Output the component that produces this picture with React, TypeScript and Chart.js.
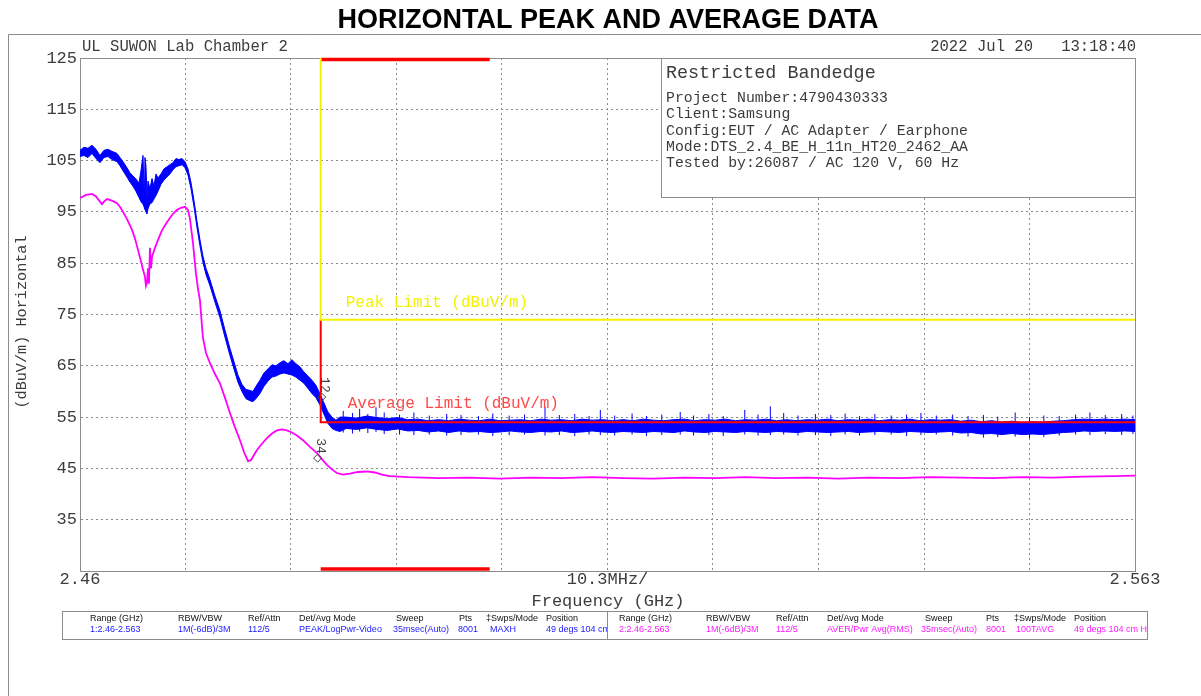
import React, { useEffect, useRef } from 'react';
import { Chart, registerables } from 'chart.js';

Chart.register(...registerables);

const W = 1201;
const H = 696;

// ---------------- data ----------------
const xTickValues = [2.46, 2.4703, 2.4806, 2.4909, 2.5012, 2.5115, 2.5218, 2.5321, 2.5424, 2.5527, 2.563];
const xTickLabels = ['2.46', '', '', '', '', '10.3MHz/', '', '', '', '', '2.563'];
const yHiddenTicks = [25];

const peakFreq = [
  2.46000, 2.46039, 2.46078, 2.46117, 2.46156, 2.46195, 2.46234, 2.46273, 2.46312, 2.46361,
  2.46390, 2.46420, 2.46459, 2.46488, 2.46517, 2.46547, 2.46576, 2.46595, 2.46615, 2.46625,
  2.46634, 2.46644, 2.46654, 2.46664, 2.46683, 2.46703, 2.46722, 2.46742, 2.46761, 2.46791,
  2.46820, 2.46849, 2.46878, 2.46908, 2.46937, 2.46966, 2.46996, 2.47025, 2.47054, 2.47083,
  2.47113, 2.47142, 2.47171, 2.47200, 2.47230, 2.47269, 2.47318, 2.47366, 2.47415, 2.47464,
  2.47503, 2.47542, 2.47581, 2.47620, 2.47659, 2.47688, 2.47718, 2.47757, 2.47796, 2.47835,
  2.47874, 2.47913, 2.47952, 2.47991, 2.48030, 2.48069, 2.48108, 2.48147, 2.48186, 2.48225,
  2.48264, 2.48303, 2.48342, 2.48381, 2.48420, 2.48460, 2.48499, 2.48538,
  2.486, 2.487, 2.488, 2.489, 2.490, 2.491, 2.492, 2.493, 2.494, 2.495,
  2.496, 2.497, 2.498, 2.499, 2.500, 2.501, 2.502, 2.503, 2.504, 2.505,
  2.506, 2.507, 2.508, 2.509, 2.510, 2.511, 2.512, 2.513, 2.514, 2.515,
  2.516, 2.517, 2.518, 2.519, 2.520, 2.521, 2.522, 2.523, 2.524, 2.525,
  2.526, 2.527, 2.528, 2.529, 2.530, 2.531, 2.532, 2.533, 2.534, 2.535,
  2.536, 2.537, 2.538, 2.539, 2.540, 2.541, 2.542, 2.543, 2.544, 2.545,
  2.546, 2.547, 2.548, 2.549, 2.550, 2.551, 2.552, 2.553, 2.554, 2.555,
  2.556, 2.557, 2.558, 2.559, 2.560, 2.561, 2.562, 2.563,
];

const peakHi = [
  107.0, 107.6, 107.4, 108.0, 107.2, 106.0, 107.0, 107.2, 106.8, 106.4,
  105.6, 104.8, 103.6, 102.6, 102.0, 101.4, 100.6, 103.0, 106.0, 99.5,
  105.6, 104.0, 98.0, 101.0, 99.5, 101.5, 100.0, 102.4, 101.6, 102.4,
  103.4, 103.8, 104.2, 104.6, 105.4, 105.2, 105.4, 104.8, 103.4, 100.8,
  97.2, 93.2, 89.6, 86.4, 84.0, 81.8, 78.6, 75.8, 72.0, 68.4,
  65.8, 63.2, 61.4, 60.4, 60.2, 60.0, 61.0, 62.2, 63.6, 64.4,
  65.2, 65.0, 65.6, 66.0, 65.4, 66.2, 65.4, 64.8, 63.8, 63.0,
  62.2, 61.2, 59.6, 57.8, 56.0, 55.0, 54.4, 55.0,
  55.0, 54.8, 55.2, 54.9, 54.7, 54.9, 54.5, 54.6, 54.3, 54.5,
  54.3, 54.6, 54.4, 54.3, 54.6, 54.3, 54.4, 54.5, 54.3, 54.6,
  54.4, 54.5, 54.3, 54.6, 54.4, 54.5, 54.3, 54.5, 54.3, 54.6,
  54.4, 54.3, 54.5, 54.6, 54.3, 54.5, 54.4, 54.6, 54.3, 54.5,
  54.4, 54.6, 54.3, 54.5, 54.3, 54.5, 54.4, 54.6, 54.3, 54.5,
  54.4, 54.6, 54.3, 54.5, 54.4, 54.6, 54.3, 54.5, 54.4, 54.5,
  54.2, 54.4, 54.1, 54.3, 54.0, 54.2, 53.9, 54.1, 54.0, 54.2,
  54.3, 54.5, 54.6, 54.5, 54.6, 54.5, 54.6, 54.5,
];

const peakLo = [
  105.8, 106.0, 105.6, 106.4, 105.4, 104.6, 105.6, 105.8, 105.2, 104.8,
  104.0, 103.0, 101.8, 100.8, 100.0, 99.0, 97.8, 97.0, 96.5, 96.0,
  95.5, 95.0, 94.6, 95.6, 96.6, 96.8, 97.5, 98.2, 99.0, 100.4,
  101.2, 101.8, 102.4, 103.2, 103.8, 104.0, 104.2, 103.6, 102.2, 99.6,
  96.0, 92.0, 88.4, 85.2, 82.8, 80.6, 77.4, 74.4, 70.6, 67.0,
  64.4, 61.8, 60.0, 58.6, 58.2, 58.0, 58.6, 59.6, 61.0, 62.0,
  62.8, 63.0, 63.4, 63.6, 63.4, 63.2, 62.8, 62.2, 61.6, 60.6,
  59.6, 58.8, 57.4, 55.6, 53.8, 52.8, 52.4, 52.2,
  52.8, 52.6, 52.9, 52.6, 52.4, 52.7, 52.3, 52.4, 52.1, 52.3,
  52.0, 52.3, 52.1, 52.2, 52.0, 52.1, 52.3, 52.1, 52.0, 52.2,
  52.1, 52.3, 52.0, 52.1, 52.3, 52.1, 52.0, 52.2, 52.1, 52.0,
  52.2, 52.1, 52.0, 52.3, 52.1, 52.0, 52.2, 52.1, 52.0, 52.2,
  52.1, 52.0, 52.2, 52.1, 52.0, 52.2, 52.1, 52.0, 52.1, 52.2,
  52.0, 52.1, 52.2, 52.1, 52.0, 52.2, 52.1, 52.0, 52.1, 52.2,
  51.9, 52.0, 51.7, 51.8, 51.6, 51.8, 51.6, 51.7, 51.6, 51.8,
  52.0, 52.1, 52.3, 52.2, 52.3, 52.2, 52.3, 52.2,
];

// individual noise spikes of the peak trace (frequency, top, bottom)
const spikeFreq = [
  2.4857, 2.4866, 2.4873, 2.4881, 2.4889, 2.4897, 2.4912, 2.4926, 2.4941, 2.4958,
  2.4972, 2.4989, 2.5003, 2.5019, 2.5034, 2.5054, 2.5068, 2.5083, 2.5097, 2.5108,
  2.5122, 2.5139, 2.5153, 2.5168, 2.5186, 2.5199, 2.5214, 2.5228, 2.5249, 2.5262,
  2.5274, 2.5287, 2.5301, 2.5318, 2.5333, 2.5347, 2.5361, 2.5376, 2.5392, 2.5407,
  2.5421, 2.5436, 2.5452, 2.5467, 2.5482, 2.5496, 2.5513, 2.5527, 2.5541, 2.5556,
  2.5572, 2.5586, 2.5601, 2.5617, 2.5628,
];
const spikeTop = [
  56.2, 55.8, 56.6, 55.6, 56.9, 55.9, 55.5, 55.9, 55.3, 55.6,
  55.4, 55.2, 55.7, 55.3, 55.5, 57.0, 55.4, 55.6, 55.2, 56.4,
  55.3, 55.7, 55.2, 55.5, 56.0, 55.3, 55.6, 55.2, 56.4, 55.5,
  57.1, 55.8, 55.3, 55.6, 55.4, 55.7, 55.2, 55.6, 55.3, 55.5,
  55.8, 55.3, 55.5, 55.2, 55.4, 55.1, 55.9, 55.0, 55.3, 55.2,
  55.5, 55.9, 55.4, 55.6, 55.3,
];
const spikeBottom = [
  52.0, 51.8, 52.2, 51.9, 52.1, 51.7, 51.6, 51.5, 51.6, 51.4,
  51.5, 51.6, 51.3, 51.5, 51.6, 51.4, 51.5, 51.3, 51.6, 51.5,
  51.4, 51.6, 51.3, 51.5, 51.6, 51.4, 51.5, 51.3, 51.6, 51.4,
  51.5, 51.6, 51.4, 51.5, 51.3, 51.6, 51.4, 51.5, 51.6, 51.3,
  51.5, 51.6, 51.4, 51.2, 51.0, 51.1, 51.2, 50.9, 51.1, 51.4,
  51.6, 51.5, 51.7, 51.5, 51.7,
];

const avgFreq = [
  2.46000, 2.46059, 2.46117, 2.46156, 2.46195, 2.46215, 2.46234, 2.46264, 2.46312, 2.46361,
  2.46390, 2.46420, 2.46459, 2.46508, 2.46537, 2.46566, 2.46595, 2.46615, 2.46634, 2.46644,
  2.46654, 2.46664, 2.46673, 2.46683, 2.46693, 2.46703, 2.46732, 2.46761, 2.46800, 2.46849,
  2.46898, 2.46947, 2.46986, 2.47025, 2.47054, 2.47074, 2.47103, 2.47132, 2.47152, 2.47171,
  2.47200, 2.47230, 2.47269, 2.47318, 2.47366, 2.47415, 2.47464, 2.47513, 2.47562, 2.47601,
  2.47640, 2.47669, 2.47698, 2.47728, 2.47776, 2.47825, 2.47874, 2.47923, 2.47972, 2.48020,
  2.48069, 2.48118, 2.48177, 2.48245, 2.48313, 2.48362, 2.48411, 2.48460, 2.48508, 2.48567,
  2.48635, 2.48713, 2.48801, 2.48879, 2.48948, 2.49026,
  2.492, 2.495, 2.498, 2.501, 2.504, 2.507, 2.510, 2.513, 2.516, 2.519,
  2.522, 2.525, 2.528, 2.531, 2.534, 2.537, 2.540, 2.543, 2.546, 2.549,
  2.552, 2.555, 2.558, 2.561, 2.563,
];

const avgVal = [
  97.7, 98.3, 98.5, 98.0, 97.0, 96.5, 97.0, 97.5, 97.2, 96.7,
  96.0, 95.0, 93.6, 91.5, 89.8, 87.6, 85.4, 83.7, 82.4, 80.6,
  81.2, 84.0, 81.0, 88.0, 84.0, 86.2, 88.0, 89.5, 91.4, 93.0,
  94.4, 95.4, 95.8, 96.0, 95.4, 93.6, 88.9, 83.0, 80.0, 77.8,
  70.5, 67.5, 65.5, 63.4, 61.6, 58.8, 55.8, 53.0, 50.5, 48.2,
  46.4, 46.6, 47.6, 48.6, 49.8, 50.9, 51.8, 52.4, 52.6, 52.4,
  52.0, 51.4, 50.5, 49.2, 48.0, 46.8, 45.7, 44.8, 44.1, 43.8,
  44.0, 44.3, 44.4, 44.2, 43.8, 43.5,
  43.3, 43.1, 43.2, 43.0, 43.2, 43.1, 43.3, 43.1, 43.0, 43.2,
  43.1, 43.3, 43.1, 43.2, 43.0, 43.2, 43.1, 43.3, 43.2, 43.1,
  43.3, 43.2, 43.4, 43.5, 43.6,
];

const limitFreq = [2.4835, 2.4835, 2.563];
const peakLimitVal = [125, 74, 74];
const avgLimitVal = [74, 54, 54];

const restrictedFreq = [2.4835, 2.5];
const restrictedTopVal = [124.7, 124.7];
const restrictedBottomVal = [25.4, 25.4];

const markerFreq = [2.4836, 2.4832];
const markerVal = [58.9, 47.0];
const markerLabels = ['12', '34'];

const titleText = 'HORIZONTAL PEAK AND AVERAGE DATA';
const headerLeft = 'UL SUWON Lab Chamber 2';
const headerRight = '2022 Jul 20   13:18:40';
const infoTitle = 'Restricted Bandedge';
const infoLines = [
  'Project Number:4790430333',
  'Client:Samsung',
  'Config:EUT / AC Adapter / Earphone',
  'Mode:DTS_2.4_BE_H_11n_HT20_2462_AA',
  'Tested by:26087 / AC 120 V, 60 Hz',
];
const peakLimitLabel = 'Peak Limit (dBuV/m)';
const avgLimitLabel = 'Average Limit (dBuV/m)';
const yTitle = '(dBuV/m) Horizontal';
const xTitle = 'Frequency (GHz)';

const tableHeaders = ['Range (GHz)', 'RBW/VBW', 'Ref/Attn', 'Det/Avg Mode', 'Sweep', 'Pts', '\u2021Swps/Mode', 'Position'];
const trace1Row = ['1:2.46-2.563', '1M(-6dB)/3M', '112/5', 'PEAK/LogPwr-Video', '35msec(Auto)', '8001', 'MAXH', '49 degs 104 cm H'];
const trace2Row = ['2:2.46-2.563', '1M(-6dB)/3M', '112/5', 'AVER/Pwr Avg(RMS)', '35msec(Auto)', '8001', '100TAVG', '49 degs 104 cm H'];

// ---------------- styles ----------------
const MONO = "'Liberation Mono', 'DejaVu Sans Mono', monospace";
const TXT = '#3c3c3c';
const GRID = '#8c8c8c';
const FRAME = '#8c8c8c';
const BLUE = '#0000ff';
const MAGENTA = '#ff00ff';
const YELLOW = '#f2f200';
const RED = '#ff0000';

const pts = (xs: number[], ys: number[]) => xs.map((x, i) => ({ x, y: ys[i] }));
const spikePts = () =>
  spikeFreq.flatMap((f, i) => [
    { x: f, y: spikeBottom[i] },
    { x: f, y: spikeTop[i] },
    { x: f, y: null as any },
  ]);

const overlay = {
  id: 'overlay',
  beforeDraw(chart: any) {
    const ctx = chart.ctx as CanvasRenderingContext2D;
    ctx.save();
    ctx.fillStyle = '#ffffff';
    ctx.fillRect(0, 0, W, H);
    ctx.strokeStyle = FRAME;
    ctx.lineWidth = 1;
    ctx.beginPath();
    ctx.moveTo(8.5, H);
    ctx.lineTo(8.5, 34.5);
    ctx.lineTo(W, 34.5);
    ctx.stroke();
    ctx.fillStyle = '#000';
    ctx.font = "bold 27px 'Liberation Sans', Arial, sans-serif";
    ctx.textAlign = 'center';
    ctx.textBaseline = 'alphabetic';
    ctx.fillText(titleText, 608, 28);
    ctx.fillStyle = TXT;
    ctx.font = `15.6px ${MONO}`;
    ctx.textBaseline = 'middle';
    ctx.textAlign = 'left';
    ctx.fillText(headerLeft, 82, 47);
    ctx.textAlign = 'right';
    ctx.fillText(headerRight, 1136, 47);
    ctx.restore();
  },
  beforeDatasetsDraw(chart: any) {
    const ctx = chart.ctx as CanvasRenderingContext2D;
    const a = chart.chartArea;
    ctx.save();
    ctx.strokeStyle = FRAME;
    ctx.lineWidth = 1;
    ctx.strokeRect(Math.round(a.left) + 0.5, Math.round(a.top) + 0.5, Math.round(a.right - a.left), Math.round(a.bottom - a.top));
    ctx.fillStyle = '#ffffff';
    ctx.fillRect(661.5, 58.5, 474, 139);
    ctx.strokeRect(661.5, 58.5, 474, 139);
    ctx.fillStyle = TXT;
    ctx.textAlign = 'left';
    ctx.textBaseline = 'middle';
    ctx.font = `18.4px ${MONO}`;
    ctx.fillText(infoTitle, 666, 73);
    ctx.font = `14.8px ${MONO}`;
    infoLines.forEach((t, i) => ctx.fillText(t, 666, 98 + i * 16.3));
    ctx.restore();
  },
  afterDatasetsDraw(chart: any) {
    const ctx = chart.ctx as CanvasRenderingContext2D;
    const xs = chart.scales.x;
    const ys = chart.scales.y;
    ctx.save();
    ctx.textAlign = 'left';
    ctx.textBaseline = 'middle';
    ctx.font = `16px ${MONO}`;
    ctx.fillStyle = YELLOW;
    ctx.fillText(peakLimitLabel, xs.getPixelForValue(limitFreq[1]) + 25, ys.getPixelForValue(peakLimitVal[1]) - 17);
    ctx.fillStyle = '#ff4a4a';
    ctx.fillText(avgLimitLabel, xs.getPixelForValue(limitFreq[1]) + 27, ys.getPixelForValue(avgLimitVal[1]) - 18);
    ctx.fillStyle = '#404040';
    ctx.font = `13px ${MONO}`;
    markerLabels.forEach((t, i) => {
      const px = xs.getPixelForValue(markerFreq[i]);
      const py = ys.getPixelForValue(markerVal[i]);
      ctx.save();
      ctx.translate(px - 1, py - 20);
      ctx.rotate(Math.PI / 2);
      ctx.textBaseline = 'middle';
      ctx.fillText(t, 0, -4);
      ctx.restore();
    });
    ctx.restore();
  },
  afterDraw(chart: any) {
    const ctx = chart.ctx as CanvasRenderingContext2D;
    ctx.save();
    ctx.fillStyle = TXT;
    ctx.font = `17px ${MONO}`;
    ctx.textAlign = 'center';
    ctx.textBaseline = 'middle';
    ctx.fillText(xTitle, 608, 601);
    ctx.save();
    ctx.translate(22, 322);
    ctx.rotate(-Math.PI / 2);
    ctx.font = `15.2px ${MONO}`;
    ctx.fillText(yTitle, 0, 0);
    ctx.restore();
    ctx.strokeStyle = FRAME;
    ctx.lineWidth = 1;
    ctx.strokeRect(62.5, 611.5, 1085, 28);
    ctx.beginPath();
    ctx.moveTo(607.5, 611.5);
    ctx.lineTo(607.5, 639.5);
    ctx.stroke();
    const hdrL = [90, 178, 248, 299, 396, 459, 486, 546];
    const valL = [90, 178, 248, 299, 393, 458, 490, 546];
    const hdrR = [619, 706, 776, 827, 925, 986, 1014, 1074];
    const valR = [619, 706, 776, 827, 921, 986, 1016, 1074];
    ctx.font = "9px 'Liberation Sans Narrow', 'Liberation Sans', sans-serif";
    ctx.textAlign = 'left';
    ctx.textBaseline = 'middle';
    ctx.save();
    ctx.beginPath();
    ctx.rect(63, 612, 544, 27);
    ctx.clip();
    tableHeaders.forEach((t, i) => { ctx.fillStyle = '#111'; ctx.fillText(t, hdrL[i], 619); });
    trace1Row.forEach((t, i) => { ctx.fillStyle = '#1a1aff'; ctx.fillText(t, valL[i], 630); });
    ctx.restore();
    ctx.save();
    ctx.beginPath();
    ctx.rect(608, 612, 539, 27);
    ctx.clip();
    tableHeaders.forEach((t, i) => { ctx.fillStyle = '#111'; ctx.fillText(t, hdrR[i], 619); });
    trace2Row.forEach((t, i) => { ctx.fillStyle = '#ff1aff'; ctx.fillText(t, valR[i], 630); });
    ctx.restore();
    ctx.restore();
  },
};

export default function App() {
  const ref = useRef<HTMLCanvasElement>(null);
  useEffect(() => {
    const canvas = ref.current!;
    const chart = new Chart(canvas, {
      type: 'line',
      data: {
        datasets: [
          { label: 'Peak Limit', data: pts(limitFreq, peakLimitVal), borderColor: YELLOW, borderWidth: 2, pointRadius: 0, fill: false, clip: false } as any,
          { label: 'Average Limit', data: pts(limitFreq, avgLimitVal), borderColor: RED, borderWidth: 2, pointRadius: 0, fill: false } as any,
          { label: 'Markers', data: pts(markerFreq, markerVal), showLine: false, pointStyle: 'rectRot', pointRadius: 4, pointBorderColor: '#404040', pointBackgroundColor: 'rgba(0,0,0,0)', pointBorderWidth: 1 } as any,
          { label: 'Restricted top', data: pts(restrictedFreq, restrictedTopVal), borderColor: RED, borderWidth: 3.5, pointRadius: 0, clip: false } as any,
          { label: 'Restricted bottom', data: pts(restrictedFreq, restrictedBottomVal), borderColor: RED, borderWidth: 3.5, pointRadius: 0, clip: false } as any,
          { label: 'Average', data: pts(avgFreq, avgVal), borderColor: MAGENTA, borderWidth: 1.8, pointRadius: 0, fill: false } as any,
          { label: 'Peak spikes', data: spikePts(), borderColor: BLUE, borderWidth: 1, pointRadius: 0, fill: false, spanGaps: false } as any,
          { label: 'Peak hi', data: pts(peakFreq, peakHi), borderColor: BLUE, borderWidth: 1, pointRadius: 0, fill: false } as any,
          { label: 'Peak lo', data: pts(peakFreq, peakLo), borderColor: BLUE, borderWidth: 1, pointRadius: 0, fill: '-1', backgroundColor: BLUE } as any,
        ],
      },
      options: {
        animation: false,
        responsive: false,
        devicePixelRatio: 1,
        layout: { padding: { left: 8, right: 66, top: 58, bottom: 95 } },
        plugins: { legend: { display: false }, tooltip: { enabled: false } },
        elements: { line: { tension: 0 }, point: { radius: 0 } },
        scales: {
          x: {
            type: 'linear',
            min: 2.46,
            max: 2.563,
            afterBuildTicks: (s: any) => { s.ticks = xTickValues.map((v) => ({ value: v })); },
            afterFit: (s: any) => { s.height = 30; },
            ticks: {
              autoSkip: false,
              maxRotation: 0,
              minRotation: 0,
              padding: -2,
              color: TXT,
              font: { family: MONO, size: 17 },
              callback: (_v: any, i: number) => xTickLabels[i],
            },
            grid: { color: GRID, drawTicks: false, lineWidth: 1 },
            border: { display: true, color: FRAME, dash: [2, 3] },
          },
          y: {
            min: 25,
            max: 125,
            afterFit: (s: any) => { s.width = 72; },
            ticks: {
              stepSize: 10,
              padding: 3,
              color: TXT,
              font: { family: MONO, size: 17 },
              callback: (v: any) => (yHiddenTicks.includes(Number(v)) ? '' : String(v)),
            },
            grid: { color: GRID, drawTicks: false, lineWidth: 1 },
            border: { display: true, color: FRAME, dash: [2, 3] },
          },
        } as any,
      },
      plugins: [overlay],
    });
    return () => chart.destroy();
  }, []);
  return (
    <canvas
      ref={ref}
      width={W}
      height={H}
      style={{ position: 'absolute', left: 0, top: 0, width: W, height: H }}
    />
  );
}
